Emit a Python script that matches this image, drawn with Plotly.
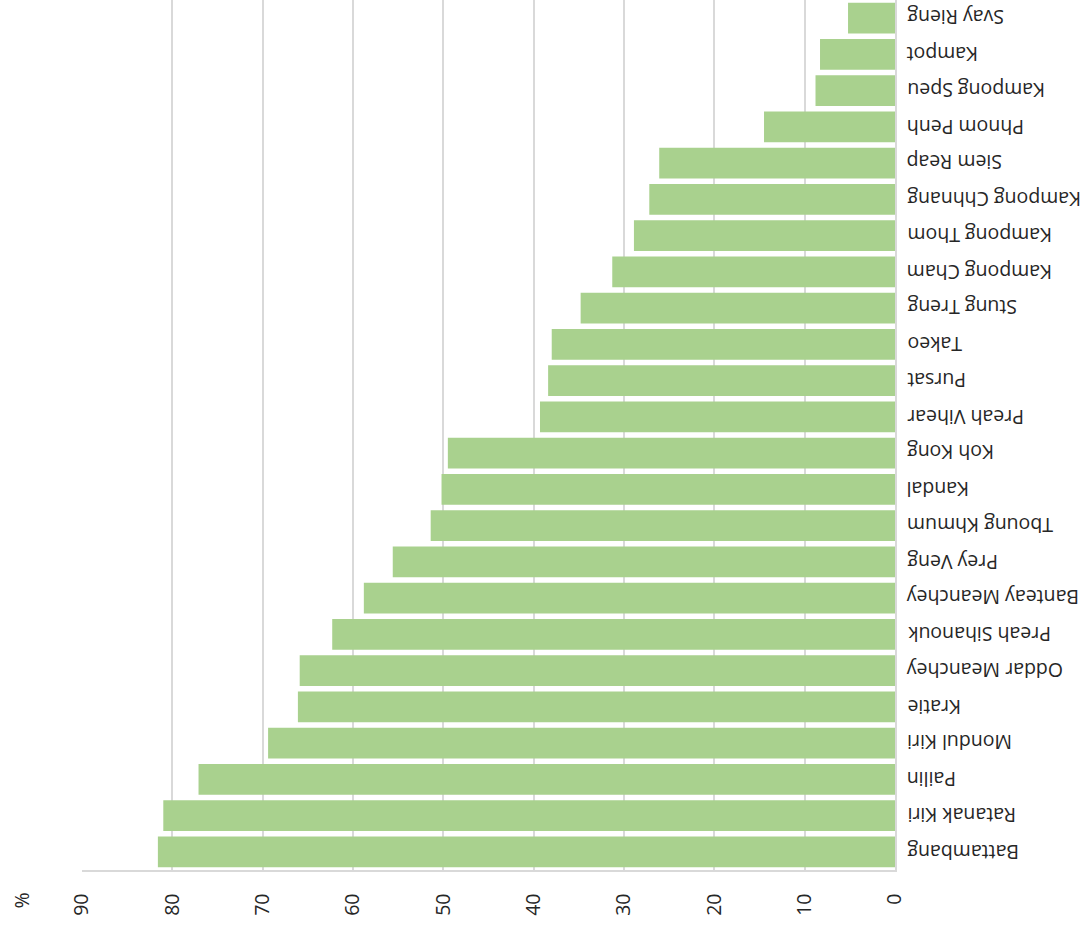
import plotly.graph_objects as go

categories = ["Battambang", "Ratanak Kiri", "Pailin", "Mondul Kiri", "Kratie",
              "Oddar Meanchey", "Preah Sihanouk", "Banteay Meanchey", "Prey Veng",
              "Tboung Khmum", "Kandal", "Koh Kong", "Preah Vihear", "Pursat", "Takeo",
              "Stung Treng", "Kampong Cham", "Kampong Thom", "Kampong Chhnang",
              "Siem Reap", "Phnom Penh", "Kampong Speu", "Kampot", "Svay Rieng"]
values = [81.6, 81.0, 77.1, 69.4, 66.1, 65.9, 62.3, 58.8, 55.6, 51.4, 50.2, 49.5,
          39.3, 38.4, 38.0, 34.8, 31.3, 28.9, 27.2, 26.1, 14.5, 8.8, 8.3, 5.2]
x_ticks = [0, 10, 20, 30, 40, 50, 60, 70, 80, 90]
unit_label = "%"

FONT = "Open Sans"
TXT = "#262626"
FS = 19.5

fig = go.Figure(go.Bar(
    y=categories, x=values, orientation="h",
    marker=dict(color="#A9D18E", line=dict(width=0)),
))

fig.update_layout(
    width=1091, height=935,
    margin=dict(l=82, r=196, t=0, b=65),
    paper_bgcolor="white", plot_bgcolor="white",
    bargap=0.145, showlegend=False,
    font=dict(family=FONT, size=FS, color=TXT),
)
fig.update_xaxes(
    range=[90, 0], tickvals=x_ticks, tickangle=-90, automargin=False,
    showgrid=True, gridcolor="#D9D9D9", gridwidth=1.5,
    zeroline=False, showline=True, linecolor="#D9D9D9", linewidth=1.5,
    ticks="outside", ticklen=14, tickcolor="rgba(0,0,0,0)",
    tickfont=dict(family=FONT, size=FS, color=TXT),
)
fig.update_yaxes(
    side="right", type="category", automargin=False,
    range=[-0.5, len(categories) - 0.5],
    showticklabels=False, ticks="",
    showgrid=False, showline=True, linecolor="#D9D9D9", linewidth=1.5,
)
for c in categories:
    fig.add_annotation(
        text=c, x=0, y=c, xref="x", yref="y", xanchor="left", yanchor="middle",
        xshift=10, showarrow=False, textangle=180,
        font=dict(family=FONT, size=FS, color=TXT),
    )
fig.add_annotation(
    text=unit_label, xref="paper", yref="paper", x=-0.075, y=-0.035,
    xanchor="center", yanchor="middle",
    showarrow=False, textangle=-90, font=dict(family=FONT, size=FS, color=TXT),
)
fig.write_html("out.html", config={"displayModeBar": False},
               post_script="document.body.style.margin='0';")
